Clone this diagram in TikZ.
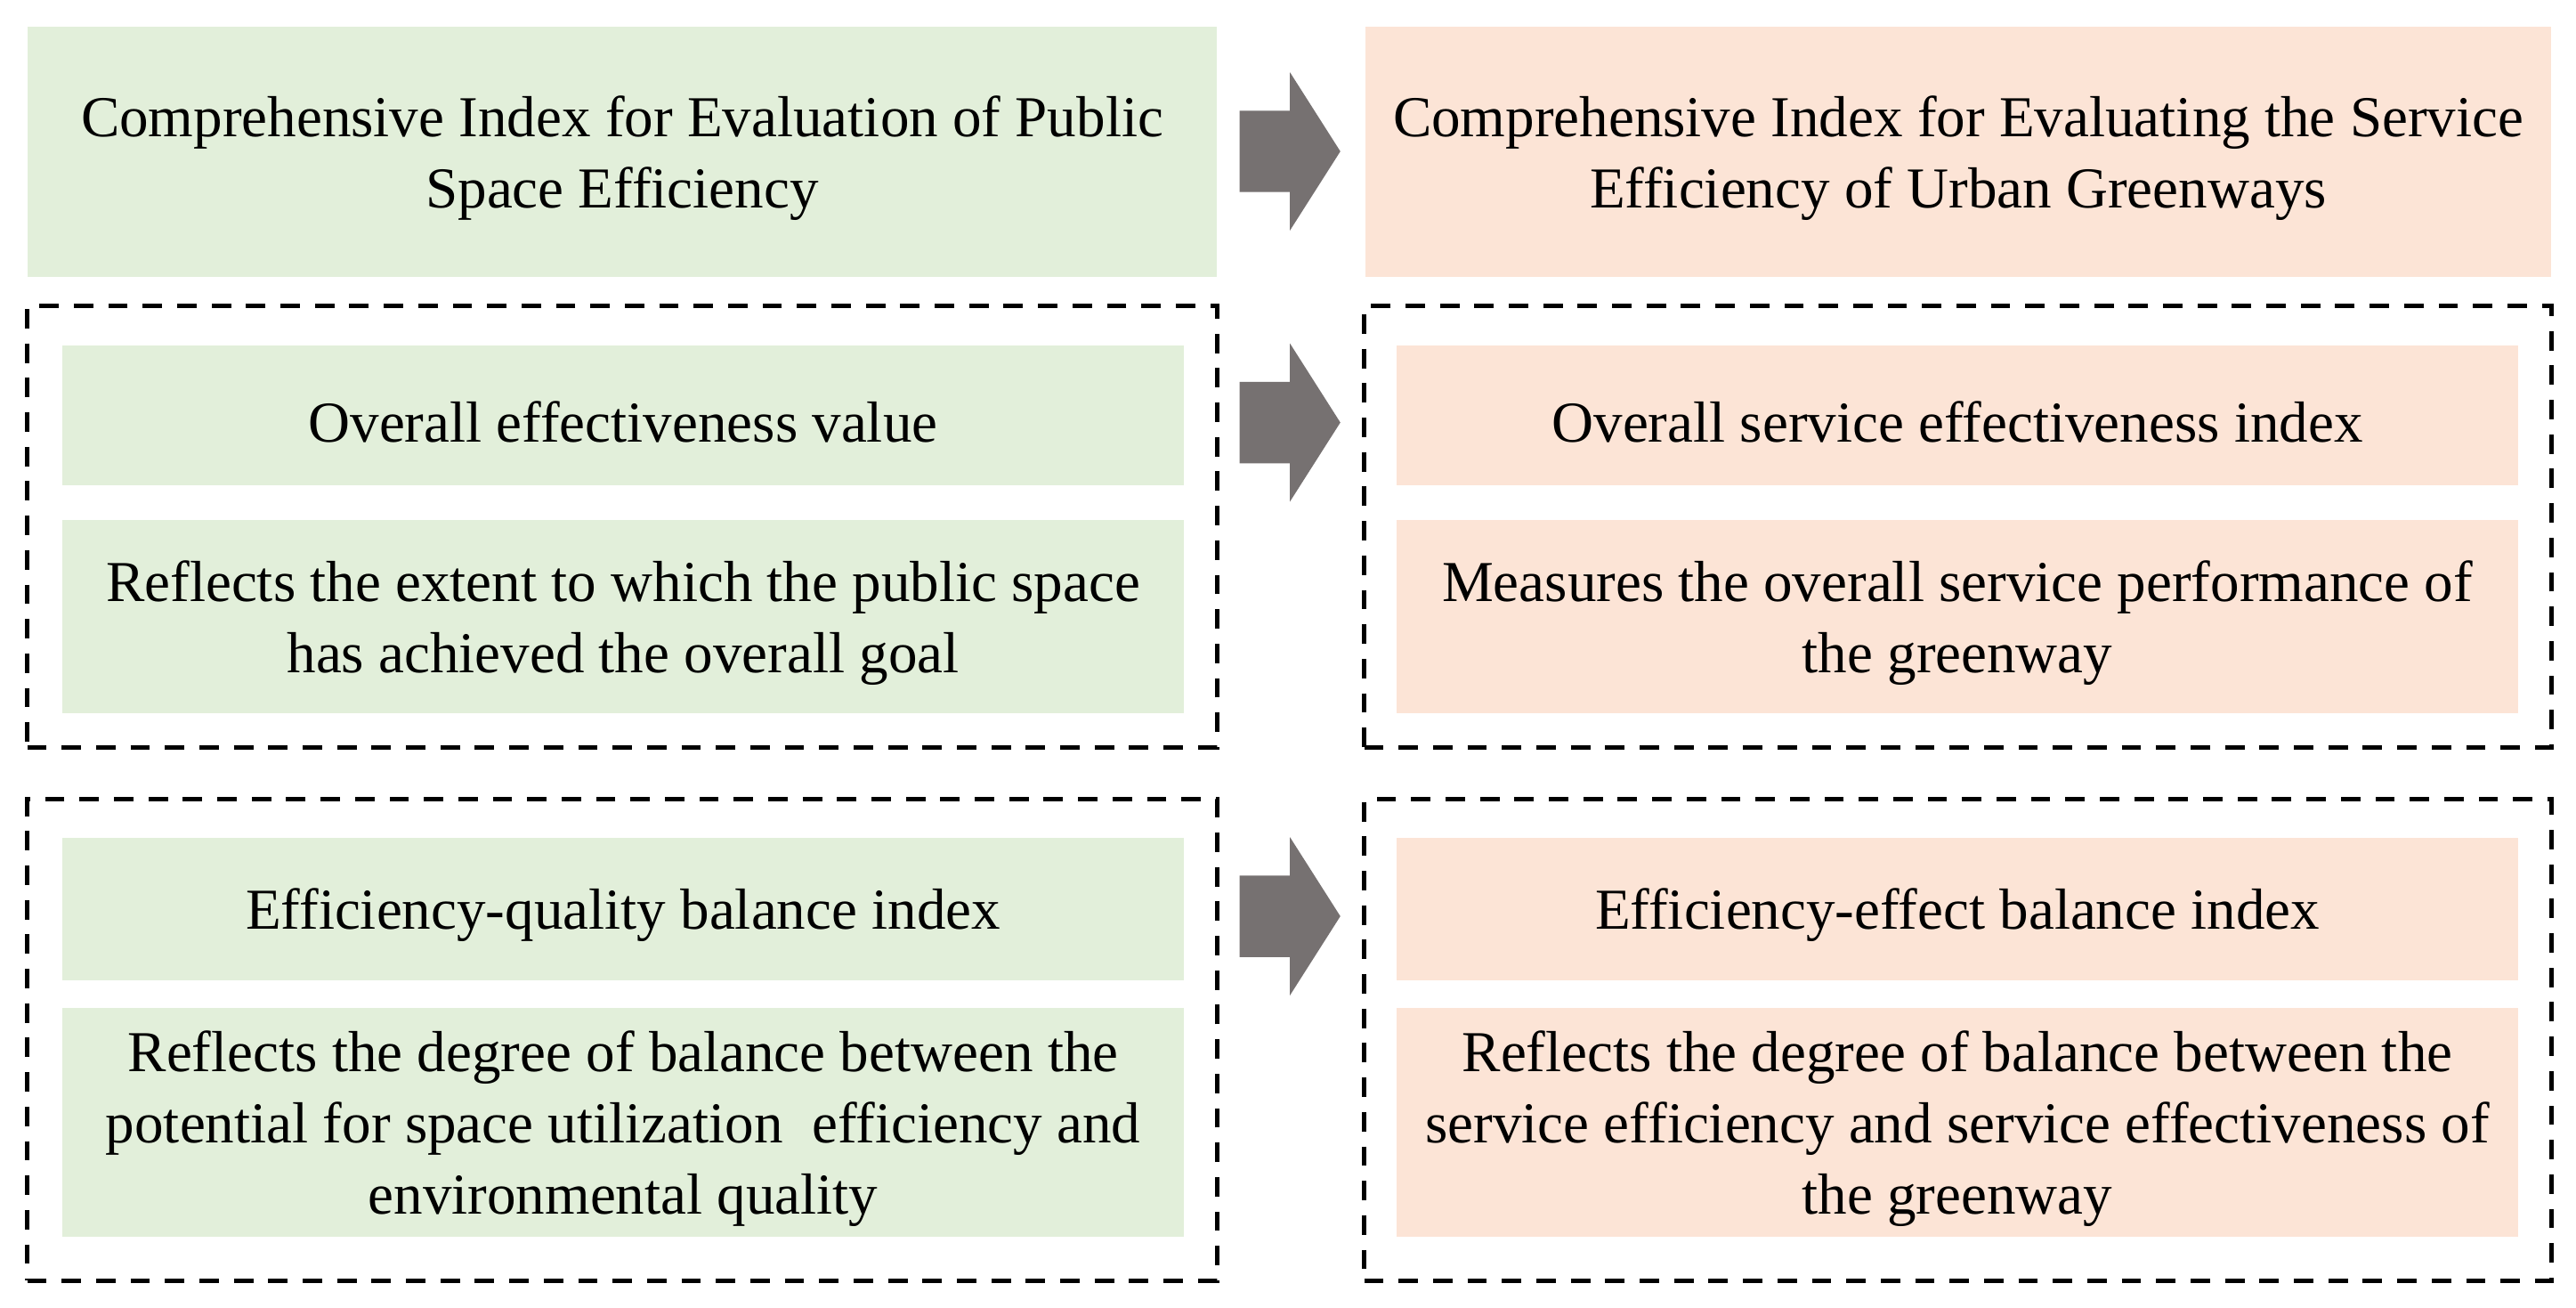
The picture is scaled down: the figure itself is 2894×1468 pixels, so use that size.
\documentclass[tikz,border=0pt]{standalone}
\usepackage{fontspec}
\setmainfont{Liberation Serif}
\usetikzlibrary{shapes.arrows}
\definecolor{gfill}{HTML}{E2EFDA}
\definecolor{ofill}{HTML}{FCE4D6}
\definecolor{agray}{HTML}{767171}
\begin{document}
\begin{tikzpicture}[x=0.01cm,y=-0.01cm,
  txt/.style={font=\fontsize{18.5pt}{22.7pt}\selectfont, align=center, inner sep=0pt},
  gbox/.style={inner sep=0pt, fill=gfill, draw=none},
  obox/.style={inner sep=0pt, fill=ofill, draw=none},
  tx/.style={label={[txt, yshift=-0.07cm]center:{#1}}},
  dbox/.style={draw=black, dash pattern=on 6.2pt off 4.8pt, line width=1.4pt, fill=none, inner sep=0pt},
  blockarrow/.style={single arrow, fill=agray, draw=none, inner xsep=0pt, inner ysep=0.45cm,
    text height=0pt, text depth=0pt, text width=0pt,
    minimum height=1.13cm, single arrow head extend=0.43cm,
    single arrow tip angle=115, single arrow head indent=0pt, anchor=tail}
]
\useasboundingbox (0,0) rectangle (2894,1468);
\fill[white] (0,0) rectangle (2894,1468);

% top row
\node[gbox, minimum width=13.36cm, minimum height=2.81cm,
  tx={Comprehensive Index for Evaluation of Public\\Space Efficiency}] (gtop) at (699,170.5) {};
\node[obox, minimum width=13.32cm, minimum height=2.81cm,
  tx={Comprehensive Index for Evaluating the Service\\Efficiency of Urban Greenways}] (otop) at (2200,170.5) {};

% dashed groups
\node[dbox, minimum width=13.36cm, minimum height=4.95cm] (gd1) at (699,591.5) {};
\node[dbox, minimum width=13.33cm, minimum height=4.95cm] (od1) at (2199.5,591.5) {};
\node[dbox, minimum width=13.36cm, minimum height=5.40cm] (gd2) at (699,1168) {};
\node[dbox, minimum width=13.33cm, minimum height=5.40cm] (od2) at (2199.5,1168) {};

% inner boxes
\node[gbox, minimum width=12.6cm, minimum height=1.57cm,
  tx={Overall effectiveness value}] (g1) at (700,466.5) {};
\node[gbox, minimum width=12.6cm, minimum height=2.17cm,
  tx={Reflects the extent to which the public space\\has achieved the overall goal}] (g2) at (700,692.5) {};
\node[gbox, minimum width=12.6cm, minimum height=1.60cm,
  tx={Efficiency-quality balance index}] (g3) at (700,1021) {};
\node[gbox, minimum width=12.6cm, minimum height=2.57cm,
  tx={Reflects the degree of balance between the\\potential for space utilization\ \ efficiency and\\environmental quality}] (g4) at (700,1260.5) {};

\node[obox, minimum width=12.6cm, minimum height=1.57cm,
  tx={Overall service effectiveness index}] (o1) at (2199,466.5) {};
\node[obox, minimum width=12.6cm, minimum height=2.17cm,
  tx={Measures the overall service performance of\\the greenway}] (o2) at (2199,692.5) {};
\node[obox, minimum width=12.6cm, minimum height=1.60cm,
  tx={Efficiency-effect balance index}] (o3) at (2199,1021) {};
\node[obox, minimum width=12.6cm, minimum height=2.57cm,
  tx={Reflects the degree of balance between the\\service efficiency and service effectiveness of\\the greenway}] (o4) at (2199,1260.5) {};

% block arrows
\node[blockarrow] (a1) at (1392,170) {};
\node[blockarrow] (a2) at (1392,474.5) {};
\node[blockarrow] (a3) at (1392,1029) {};
\end{tikzpicture}
\end{document}
